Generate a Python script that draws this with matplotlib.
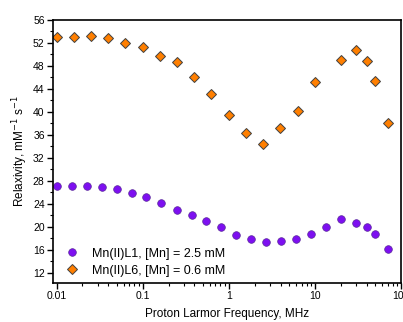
import numpy as np
import matplotlib
matplotlib.use('Agg')
import matplotlib.pyplot as plt
from matplotlib.ticker import LogLocator, NullFormatter, FixedLocator, MultipleLocator

plt.rcParams['font.family'] = ['Liberation Sans', 'DejaVu Sans']

# Mn(II)L1, [Mn] = 2.5 mM
freq_l1 = [0.01, 0.015, 0.0225, 0.0335, 0.05, 0.075, 0.11, 0.165, 0.25, 0.37,
           0.55, 0.82, 1.22, 1.8, 2.7, 4.0, 6.0, 9.0, 13.3, 20, 30, 40, 50, 70]
r1_l1 = [27.1, 27.1, 27.1, 27.0, 26.5, 25.8, 25.2, 24.1, 23.0, 22.0,
         21.0, 19.9, 18.6, 17.8, 17.3, 17.5, 17.9, 18.7, 19.9, 21.3, 20.7, 20.0, 18.7, 16.2]

# Mn(II)L6, [Mn] = 0.6 mM
freq_l6 = [0.01, 0.0158, 0.0251, 0.0398, 0.063, 0.1, 0.158, 0.251, 0.398,
           0.63, 1.0, 1.58, 2.51, 3.98, 6.3, 10, 20, 30, 40, 50, 70]
r1_l6 = [53.1, 53.1, 53.2, 52.8, 52.0, 51.3, 49.7, 48.6, 46.0,
         43.1, 39.4, 36.4, 34.4, 37.2, 40.2, 45.2, 49.0, 50.8, 48.8, 45.3, 38.1]

labels = ['Mn(II)L1, [Mn] = 2.5 mM', 'Mn(II)L6, [Mn] = 0.6 mM']

fig = plt.figure(figsize=(4.03, 3.22), dpi=100)
ax = fig.add_axes([0.1315, 0.121, 0.8635, 0.817])

ax.plot(freq_l1, r1_l1, 'o', color='#7d0ff0', markeredgecolor='#5a2a9a',
        markeredgewidth=0.5, markersize=5.5, label=labels[0], linestyle='none')
ax.plot(freq_l6, r1_l6, 'D', color='#ff7f00', markeredgecolor='#404040',
        markeredgewidth=0.7, markersize=5.5, label=labels[1], linestyle='none')

ax.set_xscale('log')
ax.set_xlim(0.0091, 100)
ax.set_ylim(10.2, 56)

ax.xaxis.set_major_locator(FixedLocator([0.01, 0.1, 1, 10, 100]))
ax.set_xticklabels(['0.01', '0.1', '1', '10', '100'])
ax.xaxis.set_minor_locator(LogLocator(base=10, subs=np.arange(2, 10)))
ax.xaxis.set_minor_formatter(NullFormatter())
ax.yaxis.set_major_locator(MultipleLocator(4))
ax.yaxis.set_minor_locator(MultipleLocator(2))
ax.set_yticks(np.arange(12, 57, 4))

ax.tick_params(which='major', direction='out', length=4, width=1, labelsize=7.5, pad=2)
ax.tick_params(which='minor', direction='out', length=2, width=0.8)
ax.tick_params(top=False, right=False)
for s in ax.spines.values():
    s.set_linewidth(1.2)

ax.set_xlabel('Proton Larmor Frequency, MHz', fontsize=8.5, labelpad=5)
ax.set_ylabel('Relaxivity, mM$^{-1}$ s$^{-1}$', fontsize=8.5, labelpad=2)

ax.legend(loc='lower left', frameon=False, fontsize=9, handletextpad=0.6,
          borderaxespad=0.1, labelspacing=0.4, bbox_to_anchor=(0.0, 0.0))

fig.savefig('out.png', dpi=100)
